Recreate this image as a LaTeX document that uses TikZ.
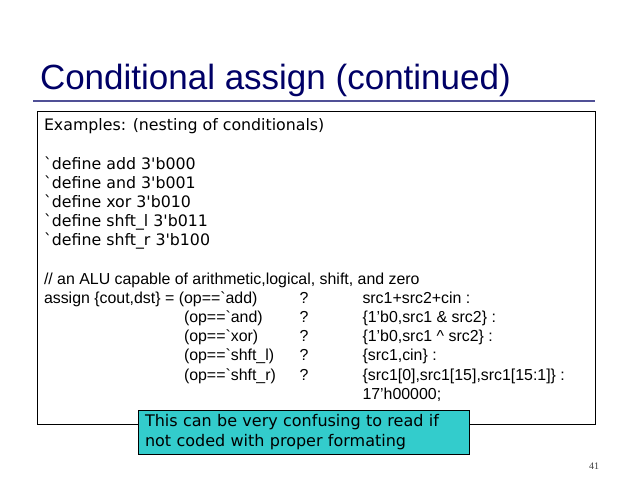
\documentclass[tikz,border=0pt]{standalone}
\usepackage{fontspec}
\setmainfont{Liberation Sans}
\newfontfamily\notefont{DejaVu Sans}
\newfontfamily\pagefont{Liberation Serif}
\usetikzlibrary{positioning}
\definecolor{titlenavy}{RGB}{0,0,102}
\definecolor{rulelav}{RGB}{80,80,150}
\definecolor{noteteal}{RGB}{51,204,204}
\tikzset{slidetitle/.style={anchor=base west, text=titlenavy,
                            font=\fontsize{35}{40}\selectfont},
         alucode/.style={anchor=base west, font=\fontsize{15.9}{19}\selectfont},
         defline/.style={anchor=base west,
                         font=\notefont\fontsize{15.8}{19}\selectfont},
         callout/.style={anchor=north west, draw, fill=noteteal,
                         line width=1pt, text width=317pt, inner xsep=7pt,
                         minimum height=44pt, align=left,
                         font=\notefont\fontsize{16}{20}\selectfont}}

\begin{document}
\begin{tikzpicture}[x=1pt, y=-1pt, every node/.style={inner sep=0pt, outer sep=0pt}]
      \useasboundingbox (0,0) rectangle (638,479);
      \draw node[slidetitle] (ttl) at (40,89) {Conditional assign (continued)};
      \draw[rulelav, line width=2pt] (33,101) -- (595,101);
      \draw[line width=1pt] (37,111) rectangle (595,424);

      \draw node[defline] (exm) at (44,130.5) {Examples: (nesting of conditionals)};
      \draw node[defline] (d1) at (44,169.5) {\textasciigrave define add 3\textquotesingle b000};
      \draw node[defline] (d2) at (44,188.5) {\textasciigrave define and 3\textquotesingle b001};
      \draw node[defline] (d3) at (44,207.5) {\textasciigrave define xor 3\textquotesingle b010};
      \draw node[defline] (d4) at (44,226.5) {\textasciigrave define shft\_l 3\textquotesingle b011};
      \draw node[defline] (d5) at (44,245.5) {\textasciigrave define shft\_r 3\textquotesingle b100};

      \draw node[alucode] (cmt) at (44,284) {// an ALU capable of arithmetic,logical, shift, and zero};
      \draw node[alucode] (asg) at (44,303.2) {assign \{cout,dst\} = (op==\textasciigrave add)};
      \draw node[alucode] (op2) at (184,322.4) {(op==\textasciigrave and)};
      \draw node[alucode] (op3) at (184,341.6) {(op==\textasciigrave xor)};
      \draw node[alucode] (op4) at (184,360.8) {(op==\textasciigrave shft\_l)};
      \draw node[alucode] (op5) at (184,380) {(op==\textasciigrave shft\_r)};
      \draw node[alucode] (q1) at (299.5,303.2) {?};
      \draw node[alucode] (q2) at (299.5,322.4) {?};
      \draw node[alucode] (q3) at (299.5,341.6) {?};
      \draw node[alucode] (q4) at (299.5,360.8) {?};
      \draw node[alucode] (q5) at (299.5,380) {?};
      \draw node[alucode] (r1) at (362.5,303.2) {src1+src2+cin :};
      \draw node[alucode] (r2) at (362.5,322.4) {\{1’b0,src1 \& src2\} :};
      \draw node[alucode] (r3) at (362.5,341.6) {\{1’b0,src1 \textasciicircum{} src2\} :};
      \draw node[alucode] (r4) at (362.5,360.8) {\{src1,cin\} :};
      \draw node[alucode] (r5) at (362.5,380) {\{src1[0],src1[15],src1[15:1]\} :};
      \draw node[alucode] (r6) at (362.5,399.2) {17’h00000;};

      \draw node[callout] (note) at (138,410) {This can be very confusing to read if\\not coded with proper formating};
      \draw node[anchor=base east, text=black!75, font=\pagefont\fontsize{10}{12}\selectfont] (pnum) at (599,469) {41};
    \end{tikzpicture}
\end{document}
